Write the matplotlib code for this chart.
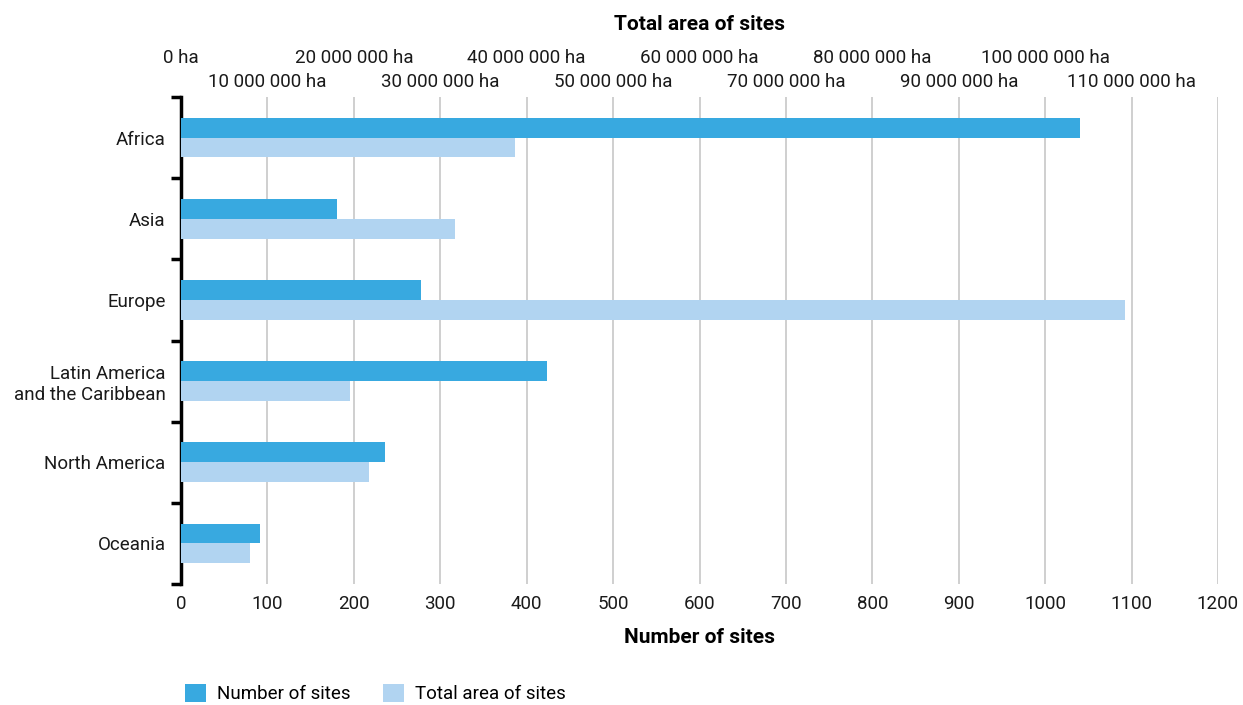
import matplotlib
matplotlib.use("Agg")
import matplotlib.pyplot as plt
from matplotlib.patches import Patch
from matplotlib.ticker import FixedLocator, FuncFormatter

plt.rcParams['font.family'] = ['Roboto', 'DejaVu Sans']

regions = ["Africa", "Asia", "Europe", "Latin America\nand the Caribbean", "North America", "Oceania"]
number_of_sites = [1040, 180, 278, 424, 236, 91]
total_area_ha = [38.7e6, 31.7e6, 109.2e6, 19.5e6, 21.8e6, 7.95e6]
bottom_ticks = [0, 100, 200, 300, 400, 500, 600, 700, 800, 900, 1000, 1100, 1200]
top_ticks = [i * 10_000_000 for i in range(12)]

c_num = "#38A9E0"
c_area = "#B1D4F1"
fs = 13.5

fig = plt.figure(figsize=(12.43, 7.05), dpi=100)
ax = fig.add_axes([181/1243, 1-584/705, (1218-181)/1243, (584-97)/705])
ax2 = ax.twiny()

y = list(range(len(regions)))
h = 0.245
ax.barh([v - h/2 for v in y], number_of_sites, height=h, color=c_num, zorder=3)
ax2.barh([v + h/2 for v in y], total_area_ha, height=h, color=c_area, zorder=3)

ax.set_xlim(0, 1200)
ax2.set_xlim(0, 120_000_000)
ax.set_ylim(len(regions) - 0.5, -0.5)

# grid
ax.set_xticks(bottom_ticks)
ax.xaxis.grid(True, color="#cccccc", linewidth=1.3)
ax.set_axisbelow(True)
ax.tick_params(axis='x', length=0, labelsize=fs, pad=8, labelcolor="#1a1a1a")
ax.set_xlabel("Number of sites", fontsize=fs + 1.5, fontweight='bold', labelpad=10.5)

# y axis
ax.yaxis.set_major_locator(FixedLocator([v - 0.5 for v in range(len(regions) + 1)]))
ax.yaxis.set_minor_locator(FixedLocator(y))
ax.yaxis.set_major_formatter(FuncFormatter(lambda v, p: ""))
ax.set_yticklabels(regions, minor=True)
ax.tick_params(axis='y', which='major', length=7, width=2.5, color='black', direction='out')
ax.tick_params(axis='y', which='minor', length=0, labelsize=fs, pad=11, labelcolor="#1a1a1a")
for lab in ax.get_yticklabels(minor=True):
    lab.set_horizontalalignment('right')
    lab.set_multialignment('right')

for s in ['top', 'right', 'bottom']:
    ax.spines[s].set_visible(False)
    ax2.spines[s].set_visible(False)
ax2.spines['left'].set_visible(False)
ax.spines['left'].set_linewidth(2.5)
ax.spines['left'].set_color('black')

def ha_fmt(v, p=None):
    s = f"{int(round(v)):,}".replace(",", " ")
    return f"{s} ha"

odd = top_ticks[1::2]
even = top_ticks[0::2]
ax2.xaxis.set_major_locator(FixedLocator(odd))
ax2.xaxis.set_minor_locator(FixedLocator(even))
ax2.xaxis.set_major_formatter(FuncFormatter(ha_fmt))
ax2.xaxis.set_minor_formatter(FuncFormatter(ha_fmt))
ax2.tick_params(axis='x', which='major', length=0, labelsize=fs, pad=4, labelcolor="#1a1a1a")
ax2.tick_params(axis='x', which='minor', length=0, labelsize=fs, pad=21.5, labelcolor="#1a1a1a")
ax2.set_xlabel("Total area of sites", fontsize=fs + 1.5, fontweight='bold', labelpad=13.5)

handles = [Patch(facecolor=c_num, label="Number of sites"),
           Patch(facecolor=c_area, label="Total area of sites")]
fig.legend(handles=handles, loc='lower left', bbox_to_anchor=(183/1243, 0.0), ncol=2,
           frameon=False, fontsize=fs, handlelength=1.1, handleheight=1.1,
           handletextpad=0.6, columnspacing=1.75, borderaxespad=0.0, borderpad=0.1)

fig.savefig("out.png", dpi=100)
